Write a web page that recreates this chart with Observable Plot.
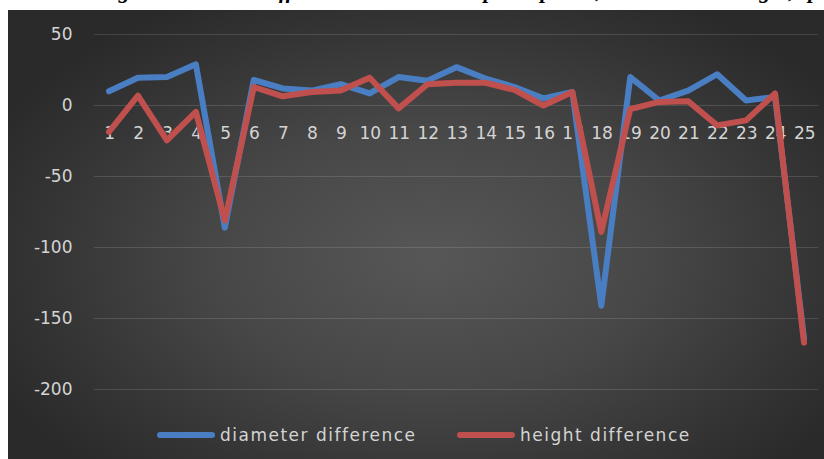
<!DOCTYPE html>
<html><head><meta charset="utf-8">
<script src="https://cdn.jsdelivr.net/npm/d3@7"></script>
<script src="https://cdn.jsdelivr.net/npm/@observablehq/plot@0.6"></script>
<style>
html,body{margin:0;padding:0;background:#fff;width:824px;height:459px;overflow:hidden;position:relative}
#title{position:absolute;left:98px;top:-20px;font:italic bold 22px "Liberation Serif",serif;line-height:22px;white-space:nowrap;color:#000}
#chart{position:absolute;left:8px;top:10px;width:816px;height:449px;
  background:radial-gradient(ellipse 60% 65% at 52% 55%, #575757 0%, #474747 45%, #343434 80%, #2a2a2a 100%);}
#chart svg{position:absolute;left:0;top:0;background:transparent}
.leg{position:absolute;top:414px;height:22px;display:flex;align-items:center;font:17px "DejaVu Sans",sans-serif;letter-spacing:1.5px;color:#d4d4d4;white-space:nowrap}
.sw{width:58px;height:6px;border-radius:3px;margin-right:5px}
</style></head>
<body>
<div id="title">Figure 3. Growth differences between compared plants, diameter and height, sp</div>
<div id="chart"></div>
<script>
const labels = ["1","2","3","4","5","6","7","8","9","10","11","12","13","14","15","16","17","18","19","20","21","22","23","24","25"];
const diameter = [10,19.5,20,29,-86,18,12,10.5,15,8.5,20,17.5,27,19,13,5,9.5,-141,20,3.5,10.5,22,3.5,6,-164];
const height = [-18.5,7,-24.5,-4.5,-81,13,6.5,9.5,10.5,19.5,-2,15,16,16,11,0,9.5,-89,-2.5,2.5,3,-14,-10.5,8.5,-167];
const yTicks = [-200,-150,-100,-50,0,50];
const seriesNames = ["diameter difference","height difference"];
const colors = ["#4a7ec3","#c0504d"];

const rowsD = labels.map((l,i)=>({x:+l, v:diameter[i]}));
const rowsH = labels.map((l,i)=>({x:+l, v:height[i]}));

const chart = Plot.plot({
  width:816, height:449,
  marginLeft:86, marginRight:6, marginTop:24, marginBottom:70,
  style:{background:"transparent", fontFamily:"DejaVu Sans, sans-serif"},
  x:{type:"linear", domain:[0.5, labels.length+0.5], axis:null},
  y:{domain:[-200,50]},
  marks:[
    Plot.gridY(yTicks,{stroke:"#ffffff", strokeOpacity:0.13, strokeWidth:1}),
    Plot.axisY(yTicks,{tickSize:0, tickPadding:22, fontSize:17, fill:"#d4d4d4", tickFormat:d=>String(d), label:null, style:{letterSpacing:"1.5px"}}),
    Plot.text(labels,{x:d=>+d, y:()=>0, dy:28, dx:0.75, fontSize:17, fill:"#d4d4d4", text:d=>d, style:{letterSpacing:"1.5px"}}),
    Plot.line(rowsD,{x:"x", y:"v", stroke:colors[0], strokeWidth:6, strokeLinejoin:"round", strokeLinecap:"round"}),
    Plot.line(rowsH,{x:"x", y:"v", stroke:colors[1], strokeWidth:6, strokeLinejoin:"round", strokeLinecap:"round"})
  ]
});
const host = document.getElementById("chart");
host.appendChild(chart);

const legPos = [149, 449];
seriesNames.forEach((n,i)=>{
  const d = document.createElement("div");
  d.className = "leg";
  d.style.left = legPos[i]+"px";
  d.innerHTML = `<span class="sw" style="background:${colors[i]}"></span><span>${n}</span>`;
  host.appendChild(d);
});
</script>
</body></html>
